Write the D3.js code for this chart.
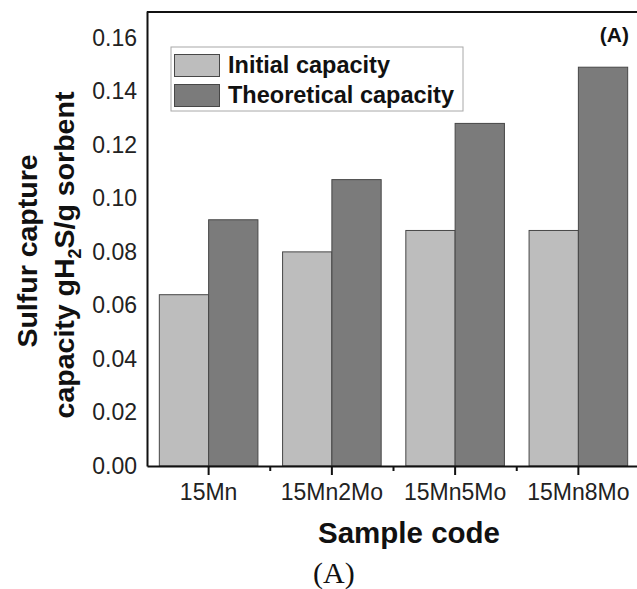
<!DOCTYPE html>
<html>
<head>
<meta charset="utf-8">
<script src="https://cdn.jsdelivr.net/npm/d3@7"></script>
<style>
  html, body { margin: 0; padding: 0; background: #fff; overflow: hidden; }
  svg { display: block; overflow: hidden; }
</style>
</head>
<body>
<script>
const categories = ["15Mn", "15Mn2Mo", "15Mn5Mo", "15Mn8Mo"];
const seriesNames = ["Initial capacity", "Theoretical capacity"];
const initialCapacity = [0.064, 0.080, 0.088, 0.088];
const theoreticalCapacity = [0.092, 0.107, 0.128, 0.149];
const yTicks = [0.00, 0.02, 0.04, 0.06, 0.08, 0.10, 0.12, 0.14, 0.16];
const colors = ["#bdbdbd", "#7b7b7b"];

const W = 637, H = 589;
const svg = d3.select("body").append("svg").attr("width", W).attr("height", H);
const font = "'Liberation Sans', Arial, Helvetica, sans-serif";

const plot = { left: 147, right: 640, top: 11, bottom: 466 };

const x = d3.scaleBand().domain(categories).range([plot.left, plot.right]).paddingInner(0).paddingOuter(0);
const groupW = x.bandwidth() * 0.8;
const xs = d3.scaleBand().domain(seriesNames).range([0, groupW]).padding(0);
const y = d3.scaleLinear().domain([0, 0.17]).range([plot.bottom, plot.top]);

const data = categories.map((c, i) => ({ cat: c, values: [initialCapacity[i], theoreticalCapacity[i]] }));

// bars
const g = svg.append("g");
data.forEach(d => {
  const x0 = x(d.cat) + (x.bandwidth() - groupW) / 2;
  g.selectAll(null).data(d.values).enter().append("rect")
    .attr("x", (v, j) => x0 + xs(seriesNames[j]))
    .attr("y", v => y(v))
    .attr("width", xs.bandwidth())
    .attr("height", v => y(0) - y(v))
    .attr("fill", (v, j) => colors[j])
    .attr("stroke", "#474747")
    .attr("stroke-width", 1);
});

// y axis
const yAxis = d3.axisLeft(y).tickValues(yTicks).tickSize(0).tickSizeOuter(0).tickPadding(10)
  .tickFormat(d3.format(".2f"));
const ya = svg.append("g").attr("transform", `translate(${plot.left},0)`).call(yAxis);
ya.select(".domain").attr("stroke", "#111").attr("stroke-width", 2);
ya.selectAll("text").attr("font-family", font).attr("font-size", 23).attr("fill", "#222");

// x axis
const xAxis = d3.axisBottom(x).tickSize(9).tickPadding(9).tickSizeOuter(0);
const xa = svg.append("g").attr("transform", `translate(0,${plot.bottom})`).call(xAxis);
xa.select(".domain").attr("stroke", "#111").attr("stroke-width", 2);
xa.selectAll(".tick line").attr("stroke", "#111").attr("stroke-width", 2);
xa.selectAll("text").attr("font-family", font).attr("font-size", 23).attr("fill", "#222");
// minor ticks between categories
xa.selectAll(null).data(categories.slice(1)).enter().append("line")
  .attr("x1", d => x(d)).attr("x2", d => x(d))
  .attr("y1", 0).attr("y2", 5)
  .attr("stroke", "#111").attr("stroke-width", 2);

// frame (top edge; right edge lies beyond the visible area)
svg.append("line").attr("x1", plot.left).attr("x2", W)
  .attr("y1", plot.top + 1).attr("y2", plot.top + 1)
  .attr("stroke", "#111").attr("stroke-width", 2);

// axis titles
svg.append("text").attr("x", 409).attr("y", 543).attr("text-anchor", "middle")
  .attr("font-family", font).attr("font-weight", "bold").attr("font-size", 29.5)
  .attr("fill", "#111").text("Sample code");

svg.append("text").attr("transform", "translate(37,251) rotate(-90)")
  .attr("text-anchor", "middle").attr("font-family", font).attr("font-weight", "bold")
  .attr("font-size", 28.5).attr("fill", "#111").text("Sulfur capture");
const yt2 = svg.append("text").attr("transform", "translate(74,255) rotate(-90)")
  .attr("text-anchor", "middle").attr("font-family", font).attr("font-weight", "bold")
  .attr("font-size", 28.5).attr("fill", "#111");
yt2.append("tspan").text("capacity gH");
yt2.append("tspan").attr("font-size", 18).attr("dy", 7).text("2");
yt2.append("tspan").attr("dy", -7).text("S/g sorbent");

// panel label inside plot
svg.append("text").attr("x", 629).attr("y", 42).attr("text-anchor", "end")
  .attr("font-family", font).attr("font-weight", "bold").attr("font-size", 21)
  .attr("fill", "#111").text("(A)");

// caption below
svg.append("text").attr("x", 313).attr("y", 583)
  .attr("font-family", "'Liberation Serif', 'Times New Roman', serif").attr("font-size", 30)
  .attr("fill", "#111").text("(A)");

// legend
const lg = svg.append("g");
lg.append("rect").attr("x", 171).attr("y", 47).attr("width", 292).attr("height", 64)
  .attr("fill", "#fff").attr("stroke", "#a8a8a8").attr("stroke-width", 1);
seriesNames.forEach((s, i) => {
  lg.append("rect").attr("x", 174.5).attr("y", 54.5 + i * 30).attr("width", 45).attr("height", 22)
    .attr("fill", colors[i]).attr("stroke", "#474747").attr("stroke-width", 1);
  lg.append("text").attr("x", 228).attr("y", 73 + i * 29.5)
    .attr("font-family", font).attr("font-weight", "bold").attr("font-size", 23.5)
    .attr("fill", "#111").text(s);
});
</script>
</body>
</html>
